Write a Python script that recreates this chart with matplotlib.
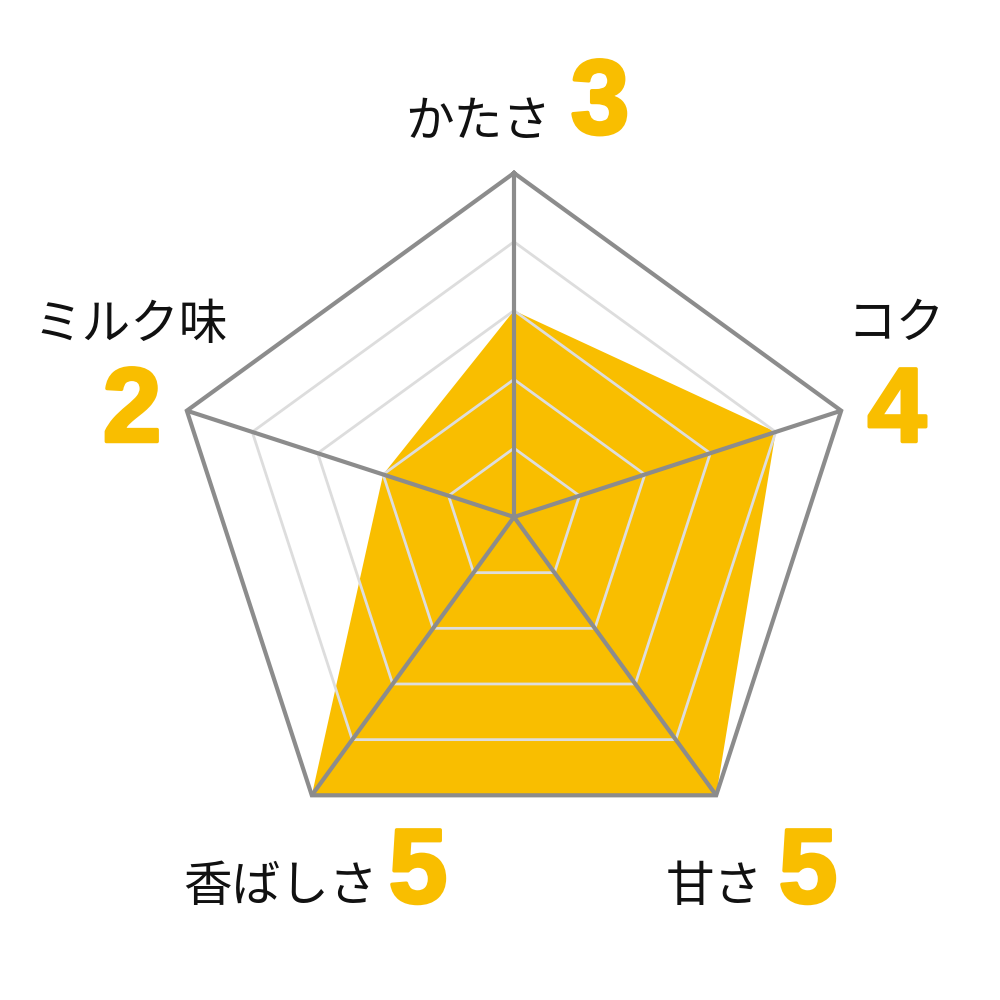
import numpy as np
import matplotlib.pyplot as plt
import matplotlib.patheffects as pe

plt.rcParams['font.family'] = ['Noto Sans CJK JP', 'DejaVu Sans']

labels = ['かたさ', 'コク', '甘さ', '香ばしさ', 'ミルク味']
scores = [3, 4, 5, 5, 2]
max_score = 5

# layout in pixel space (y down)
cx, cy = 514, 517
R = 344
yellow = '#F9BE00'
dark = '#8C8C8C'
light = '#DDDDDD'

ang = np.deg2rad(90 - 72 * np.arange(len(labels)))


def pts(r):
    r = np.asarray(r, dtype=float)
    return cx + r * np.cos(ang), cy - r * np.sin(ang)


fig = plt.figure(figsize=(10, 10), dpi=100)
ax = fig.add_axes([0, 0, 1, 1])
ax.set_xlim(0, 1000)
ax.set_ylim(1000, 0)
ax.axis('off')

# data polygon
px, py = pts(np.array(scores) / max_score * R)
ax.fill(px, py, color=yellow, zorder=1, lw=0)

# inner grid rings
for lv in range(1, max_score):
    gx, gy = pts(np.full(len(labels), lv / max_score * R))
    ax.plot(np.append(gx, gx[0]), np.append(gy, gy[0]), color=light, lw=2.0, zorder=2)

# outer ring and spokes
ox, oy = pts(np.full(len(labels), R))
ax.plot(np.append(ox, ox[0]), np.append(oy, oy[0]), color=dark, lw=3.0, zorder=3,
        solid_joinstyle='miter')
for x, y in zip(ox, oy):
    ax.plot([cx, x], [cy, y], color=dark, lw=3.0, zorder=3, solid_capstyle='butt')

txt = dict(fontsize=35, color='#111111', va='center', ha='center')
num = dict(fontsize=76, color=yellow, fontweight='bold', va='center', ha='center',
           family=['Liberation Sans', 'DejaVu Sans'],
           path_effects=[pe.withStroke(linewidth=2.5, foreground=yellow)])

# かたさ
ax.text(478, 122, labels[0], **txt)
ax.text(600, 106, str(scores[0]), **num)
# コク
ax.text(896, 324, labels[1], **txt)
ax.text(897, 414, str(scores[1]), **num)
# 甘さ
ax.text(714, 887, labels[2], **txt)
ax.text(808, 875, str(scores[2]), **num)
# 香ばしさ
ax.text(280, 887, labels[3], **txt)
ax.text(418, 875, str(scores[3]), **num)
# ミルク味
ax.text(131, 325, labels[4], **txt)
ax.text(132, 414, str(scores[4]), **num)

fig.savefig('out.png', dpi=100, facecolor='white')
